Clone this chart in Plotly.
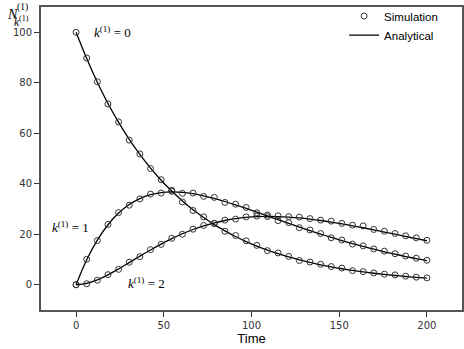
import plotly.graph_objects as go

# time grid of the simulation samples (34 samples, 0..200)
time = [0.0, 6.06, 12.12, 18.18, 24.24, 30.30, 36.36, 42.42, 48.48, 54.55,
        60.61, 66.67, 72.73, 78.79, 84.85, 90.91, 96.97, 103.03, 109.09, 115.15,
        121.21, 127.27, 133.33, 139.39, 145.45, 151.52, 157.58, 163.64, 169.70, 175.76,
        181.82, 187.88, 193.94, 200.0]

# analytical curves
ana_k0 = [100.0, 89.6, 80.2, 71.8, 64.3, 57.6, 51.6, 46.2, 41.4, 37.1,
          33.2, 29.7, 26.6, 23.8, 21.35, 19.1, 17.1, 15.3, 13.7, 12.3,
          11.0, 9.86, 8.83, 7.91, 7.08, 6.34, 5.68, 5.09, 4.56, 4.08,
          3.66, 3.27, 2.93, 2.63]
ana_k1 = [0.0, 9.88, 17.69, 23.77, 28.38, 31.77, 34.14, 35.67, 36.51, 36.79,
          36.61, 36.06, 35.23, 34.18, 32.97, 31.63, 30.21, 28.75, 27.26, 25.78,
          24.29, 22.84, 21.43, 20.07, 18.74, 17.48, 16.29, 15.16, 14.08, 13.05,
          12.11, 11.18, 10.34, 9.57]
ana_k2 = [0.0, 0.55, 1.95, 3.93, 6.26, 8.76, 11.30, 13.77, 16.11, 18.26,
          20.19, 21.88, 23.32, 24.51, 25.45, 26.17, 26.66, 26.96, 27.06, 27.01,
          26.79, 26.45, 26.00, 25.45, 24.81, 24.10, 23.36, 22.57, 21.74, 20.87,
          20.04, 19.12, 18.25, 17.42]

# simulated points
sim_k0 = [100.0, 89.8, 80.4, 71.6, 64.5, 57.3, 51.8, 46.0, 41.6, 37.4,
          32.8, 29.4, 26.9, 24.3, 21.2, 19.5, 17.4, 15.6, 13.5, 12.6,
          11.2, 9.6, 9.0, 8.1, 7.2, 6.6, 5.6, 5.2, 4.7, 4.2,
          3.9, 3.4, 3.0, 2.7]
sim_k1 = [0.0, 10.1, 17.5, 23.9, 28.6, 31.5, 34.0, 35.9, 36.3, 37.0,
          36.2, 36.3, 35.0, 34.6, 32.6, 31.9, 30.6, 28.5, 27.6, 25.4,
          24.6, 22.6, 21.7, 20.3, 18.6, 17.7, 16.1, 15.4, 14.2, 13.3,
          12.3, 11.4, 10.5, 9.7]
sim_k2 = [0.0, 0.4, 1.8, 4.0, 6.1, 8.9, 11.1, 13.9, 16.0, 18.4,
          20.0, 22.0, 23.5, 24.3, 25.6, 26.0, 26.9, 27.2, 27.0, 27.3,
          27.0, 26.8, 26.2, 25.6, 25.2, 24.3, 23.6, 23.3, 21.9, 21.2,
          20.3, 19.4, 18.6, 17.6]

series = [(sim_k0, ana_k0), (sim_k1, ana_k1), (sim_k2, ana_k2)]

fig = go.Figure()
for i, (sim, ana) in enumerate(series):
    fig.add_trace(go.Scatter(
        x=time, y=ana, mode="lines", line=dict(color="black", width=1.3, shape="spline"),
        name="Analytical", showlegend=(i == 0), legendrank=2))
    fig.add_trace(go.Scatter(
        x=time, y=sim, mode="markers", name="Simulation", showlegend=(i == 0), legendrank=1,
        marker=dict(symbol="circle-open", size=6, color="#333333", line=dict(width=1))))

serif = dict(family="Liberation Serif, DejaVu Serif, serif", size=13, color="black")
labels = [
    ("<i>k</i><sup>(1)</sup> = 0", 20.5, 100),
    ("<i>k</i><sup>(1)</sup> = 1", -3, 23),
    ("<i>k</i><sup>(1)</sup> = 2", 40, 0.5),
]
for txt, x, y in labels:
    fig.add_annotation(text=txt, x=x, y=y, xref="x", yref="y", showarrow=False, font=serif)

# y axis label N^(1)_{k^(1)}
fig.add_annotation(text="<i>N</i>", x=-0.086, y=0.976, xref="paper", yref="paper",
                   showarrow=False, xanchor="left", yanchor="middle",
                   font=dict(family="Liberation Serif, serif", size=14, color="black"))
fig.add_annotation(text="(1)", x=-0.062, y=0.997, xref="paper", yref="paper",
                   showarrow=False, xanchor="left", yanchor="middle",
                   font=dict(family="Liberation Serif, serif", size=9.5, color="black"))
fig.add_annotation(text="<i>k</i><sup>(1)</sup>", x=-0.069, y=0.954, xref="paper", yref="paper",
                   showarrow=False, xanchor="left", yanchor="middle",
                   font=dict(family="Liberation Serif, serif", size=11.5, color="black"))

axis_common = dict(showgrid=False, zeroline=False, showline=True, mirror=True,
                   linecolor="#555555", linewidth=2, ticks="outside", ticklen=5,
                   tickcolor="#333333", automargin=False,
                   tickfont=dict(family="DejaVu Sans, sans-serif", size=10, color="#333333"))

fig.update_xaxes(range=[-20, 220], tickvals=[0, 50, 100, 150, 200],
                 title=dict(text="Time", standoff=2,
                            font=dict(family="Liberation Sans, Arial, sans-serif", size=13,
                                      color="black")),
                 **axis_common)
fig.update_yaxes(range=[-10, 110], tickvals=[0, 20, 40, 60, 80, 100], **axis_common)

fig.update_layout(
    width=464, height=349,
    margin=dict(l=41, r=2, t=3, b=39),
    plot_bgcolor="white", paper_bgcolor="white",
    legend=dict(x=0.72, y=1.018, xanchor="left", yanchor="top", bgcolor="rgba(0,0,0,0)",
                font=dict(family="Liberation Sans, Arial, sans-serif", size=11.5, color="black"),
                itemwidth=30, tracegroupgap=0),
)

# drop the default page margin so the figure sits at the window's corner
fig.write_html("out.html", config={"displayModeBar": False},
               post_script="document.body.style.margin='0';")
